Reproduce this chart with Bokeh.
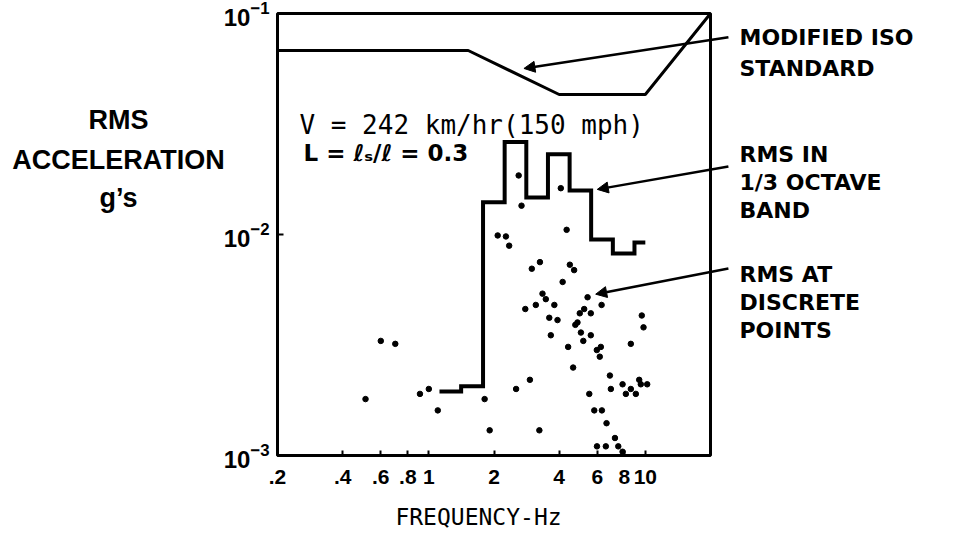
import math
from bokeh.plotting import figure
from bokeh.models import (FixedTicker, Label, Arrow, NormalHead, Range1d, LogAxis,
                          BoxAnnotation)
from bokeh.embed import file_html
from bokeh.resources import INLINE

# ---------------- data ----------------
x_ticks = [0.2, 0.4, 0.6, 0.8, 1, 2, 4, 6, 8, 10]
x_tick_labels = [".2", ".4", ".6", ".8", "1", "2", "4", "6", "8", "10"]
y_ticks = [0.001, 0.01, 0.1]
x_lim = [0.2, 20.0]
y_lim = [0.001, 0.1]

# Modified ISO standard
iso_freq = [0.2, 1.52, 4.0, 10.0, 20.0]
iso_rms = [0.068, 0.068, 0.043, 0.043, 0.1]

# RMS in 1/3 octave bands (lower band edge, value); last entry closes the line
band_freq = [1.12, 1.41, 1.78, 2.24, 2.82, 3.55, 4.47, 5.62, 7.08, 8.91, 10.0]
band_rms = [0.00195, 0.00206, 0.0140, 0.0262, 0.0147, 0.0231, 0.0158, 0.0095, 0.0082, 0.0092, 0.0092]

# RMS at discrete points
pt_freq = [2.60, 2.68, 4.07, 4.33, 2.08, 2.27, 2.35, 2.99, 3.26, 4.48, 4.69, 4.15, 3.35, 3.47,
           3.80, 3.12, 2.79, 5.41, 6.28, 5.22, 5.60, 4.98, 3.60, 3.93, 4.86, 4.75, 9.63, 9.81,
           3.66, 5.04, 5.60, 5.17, 4.40, 8.57, 6.23, 5.97, 6.16, 4.64, 2.93, 2.53, 6.86, 6.93,
           7.85, 8.13, 8.57, 9.04, 9.37, 9.53, 10.2, 5.51, 5.81, 6.30, 6.62, 3.24, 7.24, 5.98,
           6.57, 7.50, 7.85, 0.60, 0.70, 0.51, 0.91, 1.00, 1.10, 1.81, 1.91]
pt_rms = [0.0185, 0.0135, 0.0162, 0.0105, 0.0099, 0.0098, 0.0089, 0.0070, 0.0075, 0.0073,
          0.0069, 0.0061, 0.0054, 0.0051, 0.0048, 0.0048, 0.0046, 0.0052, 0.0048, 0.0046,
          0.0044, 0.0044, 0.0042, 0.0041, 0.0040, 0.0039, 0.0043, 0.0038, 0.0035, 0.0036,
          0.0035, 0.0033, 0.0031, 0.0032, 0.0031, 0.0030, 0.0028, 0.0025, 0.0022, 0.0020,
          0.0023, 0.0020, 0.0021, 0.0019, 0.0020, 0.0019, 0.0022, 0.0021, 0.0021, 0.0019,
          0.0016, 0.0016, 0.0014, 0.0013, 0.0012, 0.0011, 0.0011, 0.0011, 0.00104, 0.0033,
          0.0032, 0.0018, 0.0019, 0.0020, 0.0016, 0.0018, 0.0013]

# ---------------- layout (canvas pixels) ----------------
W, H = 938, 530
BOX_L, BOX_R, BOX_T, BOX_B = 277, 710, 13, 455   # where the plotted box sits on the canvas
px_dec_x = (BOX_R - BOX_L) / (math.log10(x_lim[1]) - math.log10(x_lim[0]))
px_dec_y = (BOX_B - BOX_T) / (math.log10(y_lim[1]) - math.log10(y_lim[0]))
xr = Range1d(10 ** (math.log10(x_lim[0]) - BOX_L / px_dec_x),
             10 ** (math.log10(x_lim[0]) + (W - BOX_L) / px_dec_x))
yr = Range1d(10 ** (math.log10(y_lim[0]) - (H - BOX_B) / px_dec_y),
             10 ** (math.log10(y_lim[1]) + BOX_T / px_dec_y))

p = figure(width=W, height=H, x_axis_type="log", y_axis_type="log",
           x_range=xr, y_range=yr, x_axis_location=None, y_axis_location=None,
           output_backend="svg", toolbar_location=None,
           min_border=0, min_border_left=0, min_border_right=0,
           min_border_top=0, min_border_bottom=0)
p.xgrid.visible = False
p.ygrid.visible = False
p.outline_line_color = None
p.background_fill_color = "white"
p.border_fill_color = "white"

BOLD = "Liberation Sans"

xaxis = LogAxis(fixed_location=y_lim[0], ticker=FixedTicker(ticks=x_ticks, minor_ticks=[]))
xaxis.major_label_overrides = {t: l for t, l in zip(x_ticks, x_tick_labels)}
xaxis.axis_line_color = None
xaxis.major_tick_in = 5
xaxis.major_tick_out = 0
xaxis.major_tick_line_width = 2
xaxis.major_tick_line_color = "black"
xaxis.minor_tick_line_color = None
xaxis.major_label_text_font = BOLD
xaxis.major_label_text_font_style = "bold"
xaxis.major_label_text_font_size = "21px"
xaxis.major_label_text_color = "black"
xaxis.major_label_standoff = 14
p.add_layout(xaxis, "below")

yaxis = LogAxis(fixed_location=x_lim[0], ticker=FixedTicker(ticks=y_ticks, minor_ticks=[]))
yaxis.axis_line_color = None
yaxis.major_tick_in = 6
yaxis.major_tick_out = 0
yaxis.major_tick_line_width = 2
yaxis.major_tick_line_color = "black"
yaxis.minor_tick_line_color = None
yaxis.major_label_text_font = BOLD
yaxis.major_label_text_font_style = "bold"
yaxis.major_label_text_font_size = "24px"
yaxis.major_label_text_color = "black"
yaxis.major_label_standoff = 8
p.add_layout(yaxis, "left")

# plot box
p.add_layout(BoxAnnotation(left=x_lim[0], right=x_lim[1], bottom=y_lim[0], top=y_lim[1],
                           fill_alpha=0, line_color="black", line_alpha=1.0, line_width=3))

# ---------------- glyphs ----------------
p.line(iso_freq, iso_rms, line_color="black", line_width=3)
p.step(band_freq, band_rms, mode="after", line_color="black", line_width=4, line_join="miter")
p.scatter(pt_freq, pt_rms, size=5.5, color="black")

# ---------------- arrows ----------------
def arrow(xs, ys, xe, ye):
    p.add_layout(Arrow(end=NormalHead(size=11, fill_color="black", line_color="black", line_width=1),
                       x_start=xs, y_start=ys, x_end=xe, y_end=ye,
                       line_color="black", line_width=2.5))

arrow(24.2, 0.078, 2.75, 0.0564)
arrow(24.2, 0.0203, 6.0, 0.016)
arrow(24.2, 0.00702, 5.9, 0.00537)

# ---------------- texts (cx, cy: canvas pixels from top-left) ----------------
def lab(text, cx, cy, size, font=BOLD, style="bold", align="left"):
    p.add_layout(Label(x=cx, y=H - cy, x_units="screen", y_units="screen", text=text,
                       text_font=font, text_font_style=style, text_font_size=size,
                       text_align=align, text_baseline="alphabetic", text_color="black"))

for t, cy in [("MODIFIED ISO", 37), ("STANDARD", 68),
              ("RMS IN", 154), ("1/3 OCTAVE", 182), ("BAND", 210),
              ("RMS AT", 274), ("DISCRETE", 302), ("POINTS", 330)]:
    lab(t, 739, cy, "22px", font="DejaVu Sans")

for t, cy in [("RMS", 119), ("ACCELERATION", 159), ("g\u2019s", 197)]:
    lab(t, 118, cy, "27px", align="center")

lab("FREQUENCY-Hz", 478, 516, "23px", font="DejaVu Sans Mono", style="normal", align="center")

lab("V = 242 km/hr(150 mph)", 299, 124, "26px", font="DejaVu Sans Mono", style="normal")
lab("L = \u2113\u209b/\u2113 = 0.3", 303, 152, "23px", font="DejaVu Sans", style="bold")

open("out.html", "w").write(file_html(p, INLINE))
